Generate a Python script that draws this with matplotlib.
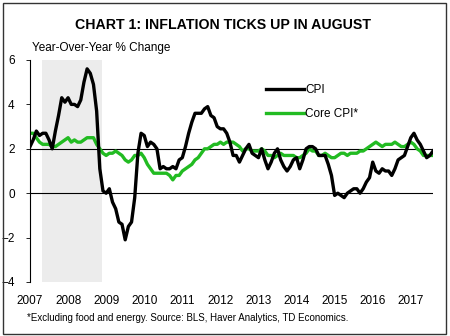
import numpy as np
import matplotlib.pyplot as plt
from matplotlib.patches import Rectangle

plt.rcParams['font.family'] = ['Liberation Sans', 'DejaVu Sans']

# Monthly year-over-year % change, Jan 2007 - Aug 2017
cpi = [2.1, 2.4, 2.8, 2.6, 2.7, 2.7, 2.4, 2.0, 2.8, 3.5, 4.3, 4.1,
       4.3, 4.0, 4.0, 3.9, 4.2, 5.0, 5.6, 5.4, 4.9, 3.7, 1.1, 0.1,
       0.0, 0.2, -0.4, -0.7, -1.3, -1.4, -2.1, -1.5, -1.3, -0.2, 1.8, 2.7,
       2.6, 2.1, 2.3, 2.2, 2.0, 1.1, 1.2, 1.1, 1.1, 1.2, 1.1, 1.5,
       1.6, 2.1, 2.7, 3.2, 3.6, 3.6, 3.6, 3.8, 3.9, 3.5, 3.4, 3.0,
       2.9, 2.9, 2.7, 2.3, 1.7, 1.7, 1.4, 1.7, 2.0, 2.2, 1.8, 1.7,
       1.6, 2.0, 1.5, 1.1, 1.4, 1.8, 2.0, 1.5, 1.2, 1.0, 1.2, 1.5,
       1.6, 1.1, 1.5, 2.0, 2.1, 2.1, 2.0, 1.7, 1.7, 1.7, 1.3, 0.8,
       -0.1, 0.0, -0.1, -0.2, 0.0, 0.1, 0.2, 0.2, 0.0, 0.2, 0.5, 0.7,
       1.4, 1.0, 0.9, 1.1, 1.0, 1.0, 0.8, 1.1, 1.5, 1.6, 1.7, 2.1,
       2.5, 2.7, 2.4, 2.2, 1.9, 1.6, 1.7, 1.9]
core_cpi = [2.7, 2.7, 2.5, 2.3, 2.2, 2.2, 2.2, 2.1, 2.1, 2.2, 2.3, 2.4,
            2.5, 2.3, 2.4, 2.3, 2.3, 2.4, 2.5, 2.5, 2.5, 2.2, 2.0, 1.8,
            1.7, 1.8, 1.8, 1.9, 1.8, 1.7, 1.5, 1.4, 1.5, 1.7, 1.7, 1.8,
            1.6, 1.3, 1.1, 0.9, 0.9, 0.9, 0.9, 0.9, 0.8, 0.6, 0.8, 0.8,
            1.0, 1.1, 1.2, 1.3, 1.5, 1.6, 1.8, 2.0, 2.0, 2.1, 2.2, 2.2,
            2.3, 2.2, 2.3, 2.3, 2.3, 2.2, 2.1, 1.9, 2.0, 2.0, 1.9, 1.9,
            1.9, 2.0, 1.9, 1.7, 1.7, 1.6, 1.7, 1.8, 1.7, 1.7, 1.7, 1.7,
            1.6, 1.6, 1.7, 1.8, 2.0, 1.9, 1.9, 1.7, 1.7, 1.8, 1.7, 1.6,
            1.6, 1.7, 1.8, 1.8, 1.7, 1.8, 1.8, 1.8, 1.9, 1.9, 2.0, 2.1,
            2.2, 2.3, 2.2, 2.1, 2.2, 2.2, 2.2, 2.3, 2.2, 2.1, 2.1, 2.2,
            2.3, 2.2, 2.0, 1.9, 1.7, 1.7, 1.7, 1.7]
years = list(range(2007, 2018))
y_ticks = [-4, -2, 0, 2, 4, 6]
shade_start, shade_end = 2007.32, 2008.9

dates = 2007 + np.arange(len(cpi)) / 12

fig = plt.figure(figsize=(4.5, 3.36), dpi=100)
ax = fig.add_axes([30 / 450, 54 / 336, 403 / 450, 222 / 336])

# recession shading
ax.axvspan(shade_start, shade_end, color='#ececec', lw=0, zorder=0)

ax.axhline(0, color='black', lw=0.8, zorder=1)
ax.axhline(2, color='black', lw=0.8, zorder=1)

ax.plot(dates, cpi, color='black', lw=2.4, label='CPI', zorder=3)
ax.plot(dates, core_cpi, color='#22bb22', lw=2.4, label='Core CPI*', zorder=2)

ax.set_xlim(2007, dates[-1])
ax.set_ylim(-4, 6)
ax.set_yticks(y_ticks)
ax.set_xticks(years)
ax.set_xticklabels([str(y) for y in years])
for s in ['top', 'right', 'bottom']:
    ax.spines[s].set_visible(False)
ax.spines['left'].set_linewidth(0.8)
ax.tick_params(axis='y', labelsize=8.5, length=3, width=0.6, pad=8)
ax.tick_params(axis='x', labelsize=8.5, length=0, pad=9)

ax.legend(loc='upper left', bbox_to_anchor=(0.56, 0.94), frameon=False,
          fontsize=8.5, handlelength=3.2, handletextpad=0.1, labelspacing=1.0)

fig.text(0.495, 0.927, 'CHART 1: INFLATION TICKS UP IN AUGUST', ha='center',
         va='center', fontsize=10.2, fontweight='bold')
fig.text(32 / 450, 1 - 48 / 336, 'Year-Over-Year % Change', ha='left',
         va='center', fontsize=8.5)
fig.text(27 / 450, 1 - 318 / 336,
         '*Excluding food and energy. Source: BLS, Haver Analytics, TD Economics.',
         ha='left', va='center', fontsize=7)

fig.patches.append(Rectangle((3 / 450, 2 / 336), 443 / 450, 331 / 336,
                             transform=fig.transFigure, fill=False,
                             edgecolor='#333333', lw=1.0))

fig.savefig('out.png', dpi=100)
